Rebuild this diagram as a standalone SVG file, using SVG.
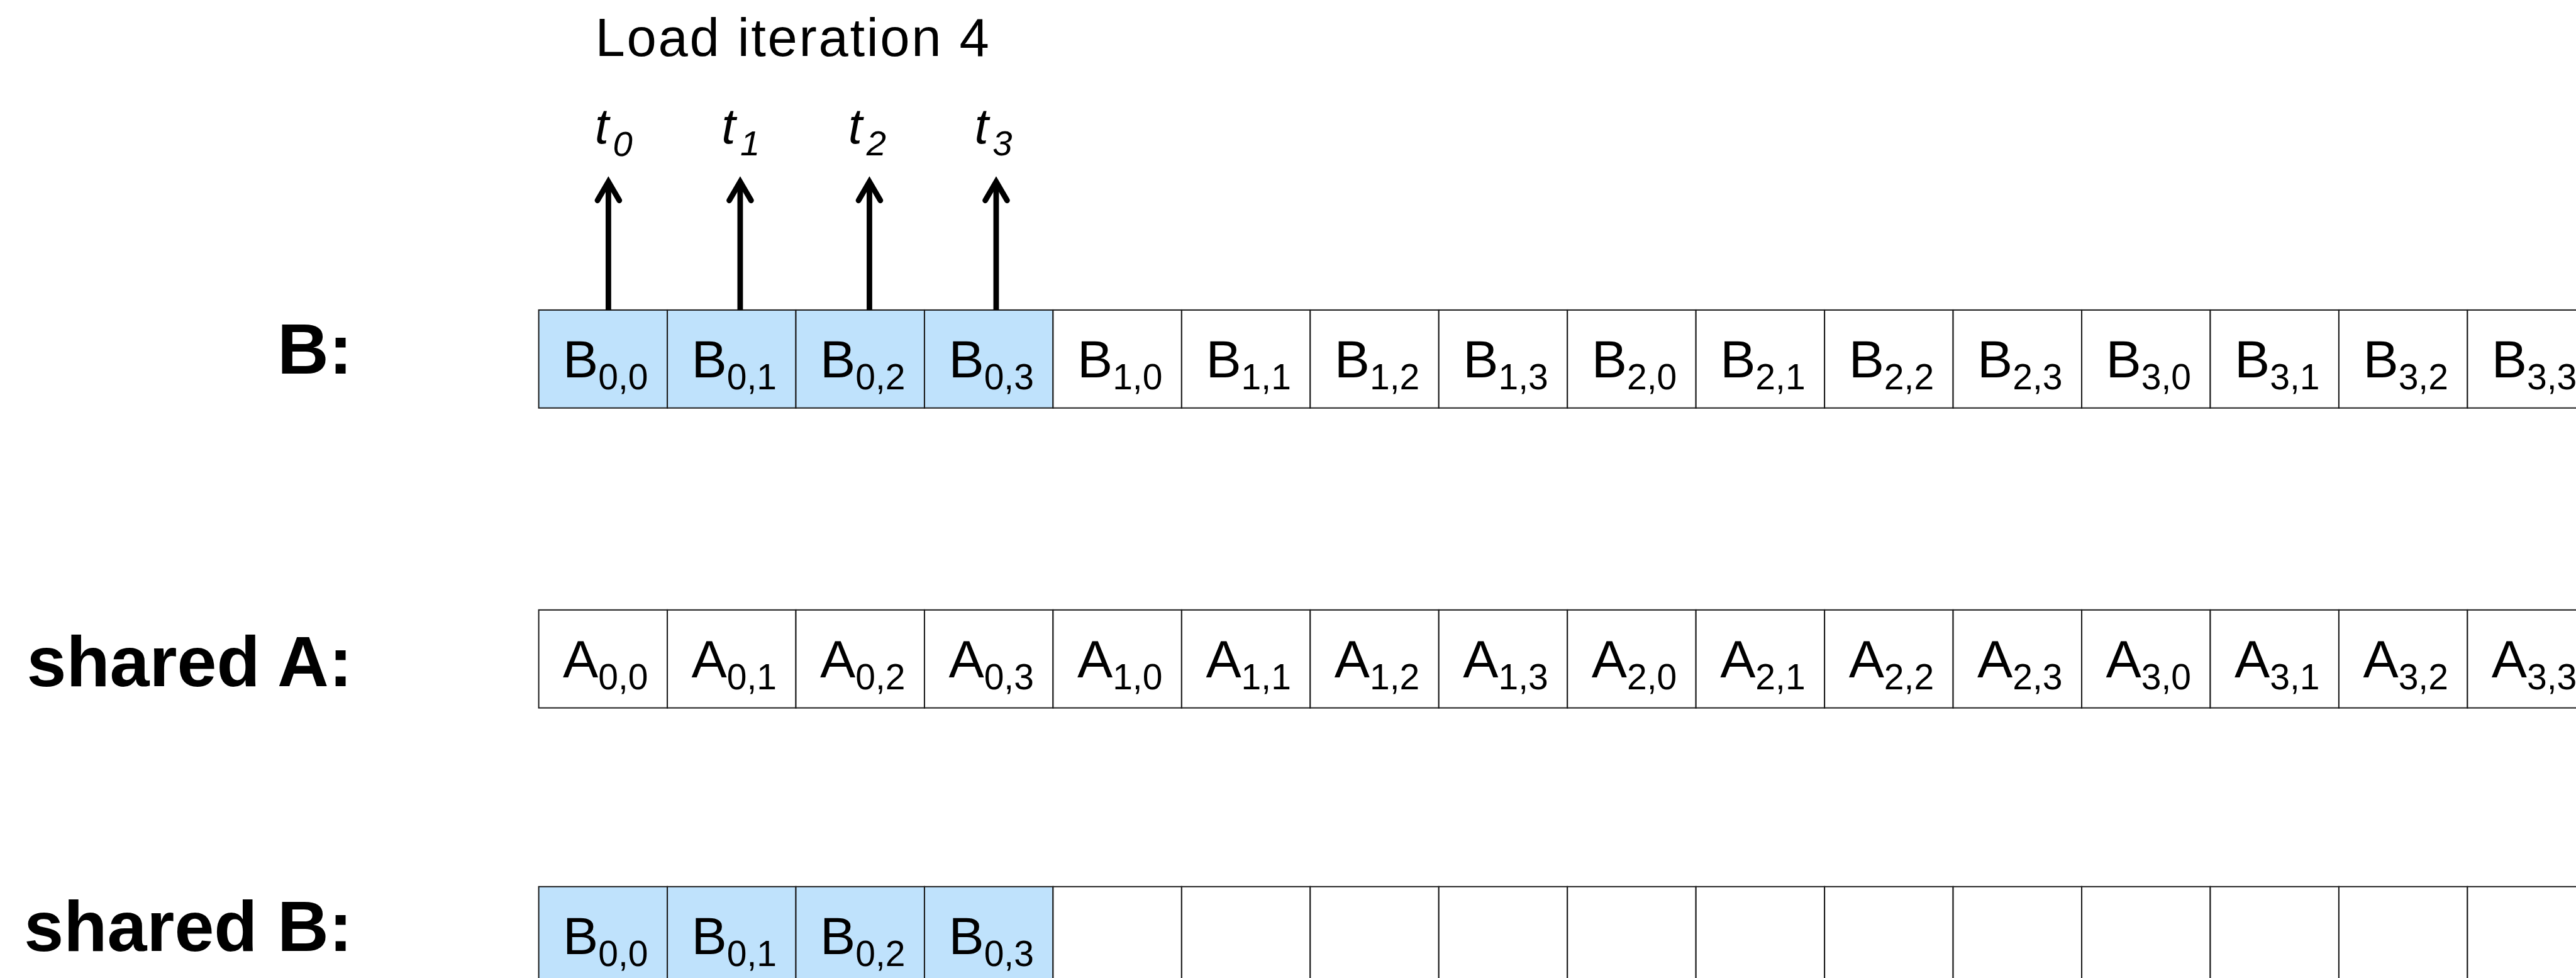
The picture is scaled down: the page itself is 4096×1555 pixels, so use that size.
<svg xmlns="http://www.w3.org/2000/svg" width="4096" height="1555" viewBox="0 0 4096 1555">
  <style>
    .cell { fill: #ffffff; stroke: #1a1a1a; stroke-width: 2.5; }
    .hl { fill: #bfe2fc; }
    .lbl { font-family: "Liberation Sans", Arial, sans-serif; font-size: 105px; fill: #000; text-anchor: middle; }
    .sub { font-size: 71px; }
    .row { font-family: "Liberation Sans", Arial, sans-serif; font-size: 141px; font-weight: bold; fill: #000; text-anchor: end; }
    .title { font-family: "Liberation Sans", Arial, sans-serif; font-size: 106px; fill: #000; }
    .tn { font-family: "Liberation Sans", Arial, sans-serif; font-style: italic; font-size: 100px; fill: #000; }
    .tsub { font-family: "Liberation Sans", Arial, sans-serif; font-style: italic; font-size: 70px; fill: #000; }
    .shaft { stroke: #000; stroke-width: 11; fill: none; marker-end: url(#arrowhead); }
  </style>
  <defs>
    <marker id="arrowhead" markerUnits="userSpaceOnUse" viewBox="-50 -30 60 60" refX="0" refY="0" markerWidth="60" markerHeight="60" orient="auto" overflow="visible">
      <path d="M -37 -21.7 L 0 0 L -37 21.7" fill="none" stroke="#000" stroke-width="11" stroke-linecap="round" stroke-linejoin="miter" stroke-miterlimit="10"/>
    </marker>
  </defs>
  <rect width="4096" height="1555" fill="#ffffff"/>
  <g transform="scale(0.80282)">

    <!-- Header -->
    <g id="title">
      <text class="title" x="1179" y="111" textLength="780" lengthAdjust="spacing">Load iteration 4</text>
    </g>

    <!-- Thread labels -->
    <g id="thread-t0"><text class="tn" x="1178" y="284">t</text><text class="tsub" x="1214" y="309">0</text></g>
    <g id="thread-t1"><text class="tn" x="1429" y="284">t</text><text class="tsub" x="1466" y="308">1</text></g>
    <g id="thread-t2"><text class="tn" x="1680" y="284">t</text><text class="tsub" x="1716" y="308">2</text></g>
    <g id="thread-t3"><text class="tn" x="1930" y="284">t</text><text class="tsub" x="1966" y="308">3</text></g>

    <!-- Row titles -->
    <g id="label-B"><text class="row" x="698" y="740">B:</text></g>
    <g id="label-sharedA"><text class="row" x="698" y="1359">shared A:</text></g>
    <g id="label-sharedB"><text class="row" x="698" y="1883">shared B:</text></g>

    <!-- Global B -->
    <g id="row-B">
      <g id="B-00"><rect class="cell hl" x="1067" y="614" width="254.67" height="194"/><text class="lbl" x="1199.3" y="747">B<tspan class="sub" dy="24">0,0</tspan></text></g>
      <g id="B-01"><rect class="cell hl" x="1321.67" y="614" width="254.67" height="194"/><text class="lbl" x="1454" y="747">B<tspan class="sub" dy="24">0,1</tspan></text></g>
      <g id="B-02"><rect class="cell hl" x="1576.33" y="614" width="254.67" height="194"/><text class="lbl" x="1708.7" y="747">B<tspan class="sub" dy="24">0,2</tspan></text></g>
      <g id="B-03"><rect class="cell hl" x="1831" y="614" width="254.67" height="194"/><text class="lbl" x="1963.3" y="747">B<tspan class="sub" dy="24">0,3</tspan></text></g>
      <g id="B-10"><rect class="cell" x="2085.67" y="614" width="254.67" height="194"/><text class="lbl" x="2218" y="747">B<tspan class="sub" dy="24">1,0</tspan></text></g>
      <g id="B-11"><rect class="cell" x="2340.33" y="614" width="254.67" height="194"/><text class="lbl" x="2472.7" y="747">B<tspan class="sub" dy="24">1,1</tspan></text></g>
      <g id="B-12"><rect class="cell" x="2595" y="614" width="254.67" height="194"/><text class="lbl" x="2727.3" y="747">B<tspan class="sub" dy="24">1,2</tspan></text></g>
      <g id="B-13"><rect class="cell" x="2849.67" y="614" width="254.67" height="194"/><text class="lbl" x="2982" y="747">B<tspan class="sub" dy="24">1,3</tspan></text></g>
      <g id="B-20"><rect class="cell" x="3104.33" y="614" width="254.67" height="194"/><text class="lbl" x="3236.7" y="747">B<tspan class="sub" dy="24">2,0</tspan></text></g>
      <g id="B-21"><rect class="cell" x="3359" y="614" width="254.67" height="194"/><text class="lbl" x="3491.3" y="747">B<tspan class="sub" dy="24">2,1</tspan></text></g>
      <g id="B-22"><rect class="cell" x="3613.67" y="614" width="254.67" height="194"/><text class="lbl" x="3746" y="747">B<tspan class="sub" dy="24">2,2</tspan></text></g>
      <g id="B-23"><rect class="cell" x="3868.33" y="614" width="254.67" height="194"/><text class="lbl" x="4000.7" y="747">B<tspan class="sub" dy="24">2,3</tspan></text></g>
      <g id="B-30"><rect class="cell" x="4123" y="614" width="254.67" height="194"/><text class="lbl" x="4255.3" y="747">B<tspan class="sub" dy="24">3,0</tspan></text></g>
      <g id="B-31"><rect class="cell" x="4377.67" y="614" width="254.67" height="194"/><text class="lbl" x="4510" y="747">B<tspan class="sub" dy="24">3,1</tspan></text></g>
      <g id="B-32"><rect class="cell" x="4632.33" y="614" width="254.67" height="194"/><text class="lbl" x="4764.7" y="747">B<tspan class="sub" dy="24">3,2</tspan></text></g>
      <g id="B-33"><rect class="cell" x="4887" y="614" width="254.67" height="194"/><text class="lbl" x="5019.3" y="747">B<tspan class="sub" dy="24">3,3</tspan></text></g>
    </g>

    <!-- Shared A -->
    <g id="row-sharedA">
      <g id="sA-00"><rect class="cell" x="1067" y="1208" width="254.67" height="194"/><text class="lbl" x="1199.3" y="1341">A<tspan class="sub" dy="24">0,0</tspan></text></g>
      <g id="sA-01"><rect class="cell" x="1321.67" y="1208" width="254.67" height="194"/><text class="lbl" x="1454" y="1341">A<tspan class="sub" dy="24">0,1</tspan></text></g>
      <g id="sA-02"><rect class="cell" x="1576.33" y="1208" width="254.67" height="194"/><text class="lbl" x="1708.7" y="1341">A<tspan class="sub" dy="24">0,2</tspan></text></g>
      <g id="sA-03"><rect class="cell" x="1831" y="1208" width="254.67" height="194"/><text class="lbl" x="1963.3" y="1341">A<tspan class="sub" dy="24">0,3</tspan></text></g>
      <g id="sA-10"><rect class="cell" x="2085.67" y="1208" width="254.67" height="194"/><text class="lbl" x="2218" y="1341">A<tspan class="sub" dy="24">1,0</tspan></text></g>
      <g id="sA-11"><rect class="cell" x="2340.33" y="1208" width="254.67" height="194"/><text class="lbl" x="2472.7" y="1341">A<tspan class="sub" dy="24">1,1</tspan></text></g>
      <g id="sA-12"><rect class="cell" x="2595" y="1208" width="254.67" height="194"/><text class="lbl" x="2727.3" y="1341">A<tspan class="sub" dy="24">1,2</tspan></text></g>
      <g id="sA-13"><rect class="cell" x="2849.67" y="1208" width="254.67" height="194"/><text class="lbl" x="2982" y="1341">A<tspan class="sub" dy="24">1,3</tspan></text></g>
      <g id="sA-20"><rect class="cell" x="3104.33" y="1208" width="254.67" height="194"/><text class="lbl" x="3236.7" y="1341">A<tspan class="sub" dy="24">2,0</tspan></text></g>
      <g id="sA-21"><rect class="cell" x="3359" y="1208" width="254.67" height="194"/><text class="lbl" x="3491.3" y="1341">A<tspan class="sub" dy="24">2,1</tspan></text></g>
      <g id="sA-22"><rect class="cell" x="3613.67" y="1208" width="254.67" height="194"/><text class="lbl" x="3746" y="1341">A<tspan class="sub" dy="24">2,2</tspan></text></g>
      <g id="sA-23"><rect class="cell" x="3868.33" y="1208" width="254.67" height="194"/><text class="lbl" x="4000.7" y="1341">A<tspan class="sub" dy="24">2,3</tspan></text></g>
      <g id="sA-30"><rect class="cell" x="4123" y="1208" width="254.67" height="194"/><text class="lbl" x="4255.3" y="1341">A<tspan class="sub" dy="24">3,0</tspan></text></g>
      <g id="sA-31"><rect class="cell" x="4377.67" y="1208" width="254.67" height="194"/><text class="lbl" x="4510" y="1341">A<tspan class="sub" dy="24">3,1</tspan></text></g>
      <g id="sA-32"><rect class="cell" x="4632.33" y="1208" width="254.67" height="194"/><text class="lbl" x="4764.7" y="1341">A<tspan class="sub" dy="24">3,2</tspan></text></g>
      <g id="sA-33"><rect class="cell" x="4887" y="1208" width="254.67" height="194"/><text class="lbl" x="5019.3" y="1341">A<tspan class="sub" dy="24">3,3</tspan></text></g>
    </g>

    <!-- Shared B -->
    <g id="row-sharedB">
      <g id="sB-00"><rect class="cell hl" x="1067" y="1756" width="254.67" height="194"/><text class="lbl" x="1199.3" y="1889">B<tspan class="sub" dy="24">0,0</tspan></text></g>
      <g id="sB-01"><rect class="cell hl" x="1321.67" y="1756" width="254.67" height="194"/><text class="lbl" x="1454" y="1889">B<tspan class="sub" dy="24">0,1</tspan></text></g>
      <g id="sB-02"><rect class="cell hl" x="1576.33" y="1756" width="254.67" height="194"/><text class="lbl" x="1708.7" y="1889">B<tspan class="sub" dy="24">0,2</tspan></text></g>
      <g id="sB-03"><rect class="cell hl" x="1831" y="1756" width="254.67" height="194"/><text class="lbl" x="1963.3" y="1889">B<tspan class="sub" dy="24">0,3</tspan></text></g>
      <g id="sB-04"><rect class="cell" x="2085.67" y="1756" width="254.67" height="194"/></g>
      <g id="sB-05"><rect class="cell" x="2340.33" y="1756" width="254.67" height="194"/></g>
      <g id="sB-06"><rect class="cell" x="2595" y="1756" width="254.67" height="194"/></g>
      <g id="sB-07"><rect class="cell" x="2849.67" y="1756" width="254.67" height="194"/></g>
      <g id="sB-08"><rect class="cell" x="3104.33" y="1756" width="254.67" height="194"/></g>
      <g id="sB-09"><rect class="cell" x="3359" y="1756" width="254.67" height="194"/></g>
      <g id="sB-10"><rect class="cell" x="3613.67" y="1756" width="254.67" height="194"/></g>
      <g id="sB-11"><rect class="cell" x="3868.33" y="1756" width="254.67" height="194"/></g>
      <g id="sB-12"><rect class="cell" x="4123" y="1756" width="254.67" height="194"/></g>
      <g id="sB-13"><rect class="cell" x="4377.67" y="1756" width="254.67" height="194"/></g>
      <g id="sB-14"><rect class="cell" x="4632.33" y="1756" width="254.67" height="194"/></g>
      <g id="sB-15"><rect class="cell" x="4887" y="1756" width="254.67" height="194"/></g>
    </g>

    <!-- Load arrows: each thread reads one element of B -->
    <g id="connectors">
      <line class="shaft" x1="1205" y1="614" x2="1205" y2="360"/>
      <line class="shaft" x1="1466" y1="614" x2="1466" y2="360"/>
      <line class="shaft" x1="1722" y1="614" x2="1722" y2="360"/>
      <line class="shaft" x1="1973" y1="614" x2="1973" y2="360"/>
    </g>
  </g>
</svg>
